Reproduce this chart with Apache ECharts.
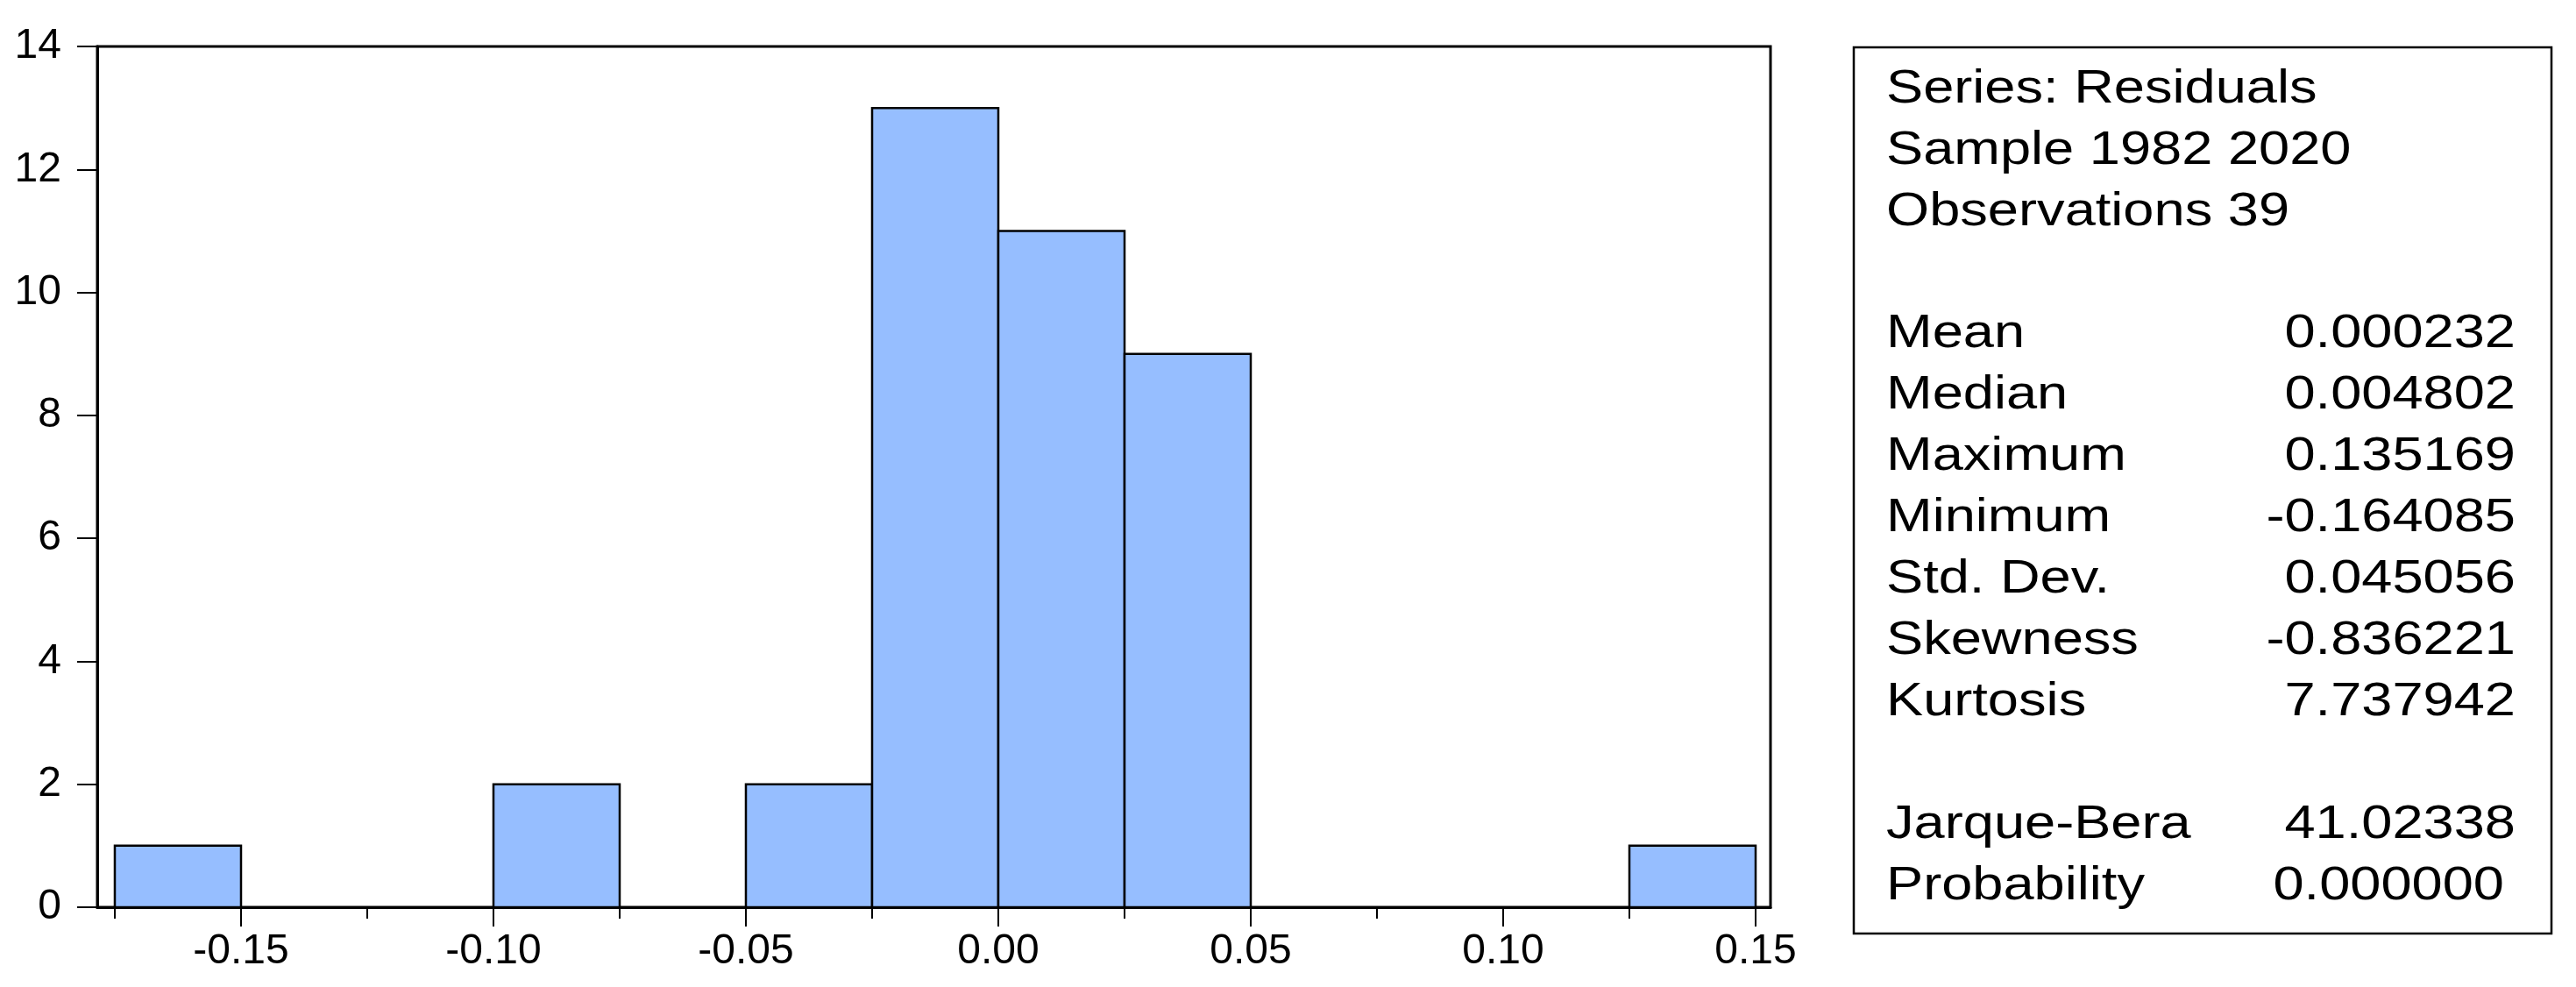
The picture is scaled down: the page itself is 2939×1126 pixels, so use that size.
<!DOCTYPE html>
<html>
<head>
<meta charset="utf-8">
<script src="https://cdn.jsdelivr.net/npm/echarts@6/dist/echarts.min.js"></script>
<style>
html,body{margin:0;padding:0;background:#fff;}
#chart{width:2939px;height:1126px;}
</style>
</head>
<body>
<div id="chart"></div>
<script>
// ---- data ----
const binEdges = [-0.175, -0.15, -0.125, -0.10, -0.075, -0.05, -0.025, 0.0, 0.025, 0.05, 0.075, 0.10, 0.125, 0.15];
const counts   = [1, 0, 0, 2, 0, 2, 13, 11, 9, 0, 0, 0, 1];
const xMajorTicks = [-0.15, -0.10, -0.05, 0.0, 0.05, 0.10, 0.15];
const xMajorLabels = ['-0.15', '-0.10', '-0.05', '0.00', '0.05', '0.10', '0.15'];
const xMinorTicks = [-0.175, -0.125, -0.075, -0.025, 0.025, 0.075, 0.125];
const yTickLabels = ['0', '2', '4', '6', '8', '10', '12', '14'];

const statHeader = ['Series: Residuals', 'Sample 1982 2020', 'Observations 39'];
const statNames  = ['Mean', 'Median', 'Maximum', 'Minimum', 'Std. Dev.', 'Skewness', 'Kurtosis'];
const statValues = ['0.000232', '0.004802', '0.135169', '-0.164085', '0.045056', '-0.836221', '7.737942'];
const testNames  = ['Jarque-Bera', 'Probability'];
const testValues = ['41.02338', '0.000000'];

// ---- layout ----
const FONT = '"Liberation Sans", Arial, sans-serif';
const X_MIN = -0.17847, X_MAX = 0.15295;
const gridPos = {left: 111, top: 53, right: 919, bottom: 91};

const histData = [];
for (let i = 0; i < counts.length; i++) {
  if (counts[i] > 0) histData.push([binEdges[i], binEdges[i + 1], counts[i]]);
}

const chart = echarts.init(document.getElementById('chart'), null, {renderer: 'canvas'});

// stats box graphics
const graphics = [];
const boxL = 2115, boxT = 54, boxR = 2911, boxB = 1065;
graphics.push({
  type: 'rect', z: 10,
  shape: {x: boxL, y: boxT, width: boxR - boxL, height: boxB - boxT},
  style: {fill: '#fff', stroke: '#000', lineWidth: 2.5}
});
const lineY0 = 102, pitch = 69.9, textLeft = 2152, valRight = 2870;
const SX = 1.17, FS = 54;
function addText(txt, x, y, align) {
  graphics.push({
    type: 'text', z: 11, x: x, y: y, scaleX: SX,
    style: {text: txt, font: FS + 'px ' + FONT, fill: '#000', textAlign: align, textVerticalAlign: 'middle'}
  });
}
statHeader.forEach((t, i) => addText(t, textLeft, lineY0 + pitch * i, 'left'));
statNames.forEach((t, i) => {
  addText(t, textLeft, lineY0 + pitch * (i + 4), 'left');
  addText(statValues[i], valRight, lineY0 + pitch * (i + 4), 'right');
});
testNames.forEach((t, i) => {
  addText(t, textLeft, lineY0 + pitch * (i + 12), 'left');
  addText(testValues[i], valRight - (i === 1 ? 13 : 0), lineY0 + pitch * (i + 12), 'right');
});

function xLabel(v) {
  for (let i = 0; i < xMajorTicks.length; i++) {
    if (Math.abs(xMajorTicks[i] - v) < 1e-9) return xMajorLabels[i];
  }
  return '';
}

const option = {
  backgroundColor: '#fff',
  animation: false,
  grid: [
    Object.assign({show: true, borderColor: '#000', borderWidth: 3, backgroundColor: 'transparent'}, gridPos),
    Object.assign({show: false}, gridPos)
  ],
  xAxis: [
    {
      type: 'value', gridIndex: 0, min: X_MIN, max: X_MAX, position: 'bottom',
      axisLine: {show: true, onZero: false, lineStyle: {color: '#000', width: 3}},
      axisTick: {show: true, customValues: xMajorTicks, length: 22, lineStyle: {color: '#000', width: 2}},
      axisLabel: {show: true, customValues: xMajorTicks, formatter: xLabel, color: '#000',
                  fontFamily: FONT, fontSize: 48, margin: 27},
      splitLine: {show: false}
    },
    {
      type: 'value', gridIndex: 1, min: X_MIN, max: X_MAX, position: 'bottom',
      axisLine: {show: false, onZero: false},
      axisTick: {show: true, customValues: xMinorTicks, length: 13, lineStyle: {color: '#000', width: 2}},
      axisLabel: {show: false},
      splitLine: {show: false}
    }
  ],
  yAxis: [
    {
      type: 'value', gridIndex: 0, min: 0, max: 14, interval: 2,
      axisLine: {show: true, onZero: false, lineStyle: {color: '#000', width: 3}},
      axisTick: {show: true, length: 23, lineStyle: {color: '#000', width: 2}},
      axisLabel: {show: true, color: '#000', fontFamily: FONT, fontSize: 48, margin: 41,
                  padding: [0, 0, 14, 0],
                  formatter: v => yTickLabels[Math.round(v / 2)]},
      splitLine: {show: false}
    },
    {
      type: 'value', gridIndex: 1, min: 0, max: 14, show: false
    }
  ],
  series: [
    {
      type: 'custom', xAxisIndex: 0, yAxisIndex: 0,
      data: histData,
      encode: {x: [0, 1], y: 2},
      renderItem: function (params, api) {
        const p0 = api.coord([api.value(0), api.value(2)]);
        const p1 = api.coord([api.value(1), 0]);
        return {
          type: 'rect',
          shape: {x: p0[0], y: p0[1], width: p1[0] - p0[0], height: p1[1] - p0[1]},
          style: {fill: 'rgb(150,190,255)', stroke: '#000', lineWidth: 2.5}
        };
      }
    }
  ],
  graphic: graphics
};
chart.setOption(option);
</script>
</body>
</html>
